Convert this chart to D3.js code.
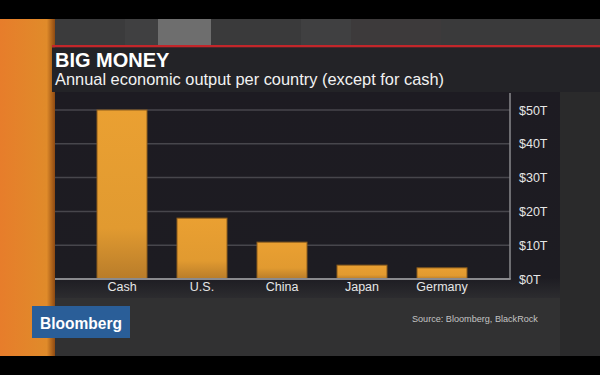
<!DOCTYPE html>
<html>
<head>
<meta charset="utf-8">
<script src="https://cdn.jsdelivr.net/npm/d3@7"></script>
<style>
  html, body { margin: 0; padding: 0; background: #000; }
  svg { display: block; font-family: "Liberation Sans", Arial, Helvetica, sans-serif; }
</style>
</head>
<body>
<svg id="chart" width="600" height="375" viewBox="0 0 600 375"></svg>
<script>
const categories = ['Cash', 'U.S.', 'China', 'Japan', 'Germany']
const values = [50, 18, 10.9, 4.1, 3.3]
const yTicks = [0, 10, 20, 30, 40, 50]
const title = 'BIG MONEY'
const subtitle = 'Annual economic output per country (except for cash)'
const source = 'Source: Bloomberg, BlackRock'

const plot = { left: 55, right: 510, top: 110, bottom: 279 }

const svg = d3.select('#chart')
const defs = svg.append('defs')

const orangeGrad = defs.append('linearGradient').attr('id', 'strip').attr('x1', 0).attr('x2', 1)
orangeGrad.append('stop').attr('offset', '0%').attr('stop-color', '#e77d2b')
orangeGrad.append('stop').attr('offset', '85%').attr('stop-color', '#e08b2a')
orangeGrad.append('stop').attr('offset', '100%').attr('stop-color', '#8e4a12')

const barGrad = defs.append('linearGradient').attr('id', 'bar').attr('x1', 0).attr('x2', 0).attr('y1', 0).attr('y2', 1)
barGrad.append('stop').attr('offset', '0%').attr('stop-color', '#eaa032')
barGrad.append('stop').attr('offset', '70%').attr('stop-color', '#e19a30')
barGrad.append('stop').attr('offset', '100%').attr('stop-color', '#b87c2a')

const panelGrad = defs.append('linearGradient').attr('id', 'panel').attr('x1', 0).attr('x2', 0).attr('y1', 0).attr('y2', 1)
panelGrad.append('stop').attr('offset', '0%').attr('stop-color', '#1d1b22')
panelGrad.append('stop').attr('offset', '90%').attr('stop-color', '#1d1c22')
panelGrad.append('stop').attr('offset', '100%').attr('stop-color', '#2c2c2f')

// backdrop
svg.append('rect').attr('width', 600).attr('height', 375).attr('fill', '#000')
svg.append('rect').attr('x', 0).attr('y', 19).attr('width', 600).attr('height', 337).attr('fill', '#313132')
svg.append('rect').attr('x', 560).attr('y', 92).attr('width', 40).attr('height', 264).attr('fill', '#2a2a2b')

const topBlocks = [[55, 70, '#3b3b3c'], [125, 33, '#404041'], [158, 53, '#6e6e6e'], [211, 90, '#3a3a3b'], [301, 50, '#404041'], [351, 90, '#3d3a3b'], [441, 159, '#3a3a3b']]
svg.selectAll('rect.topBlock').data(topBlocks).enter().append('rect')
  .attr('class', 'topBlock')
  .attr('x', d => d[0]).attr('y', 19).attr('width', d => d[1]).attr('height', 27)
  .attr('fill', d => d[2])

svg.append('rect').attr('x', 0).attr('y', 19).attr('width', 55).attr('height', 337).attr('fill', 'url(#strip)')

// title block
svg.append('rect').attr('x', 52).attr('y', 45).attr('width', 548).attr('height', 2.5).attr('fill', '#c3262a')
svg.append('rect').attr('x', 52).attr('y', 47.5).attr('width', 548).attr('height', 44.5).attr('fill', '#232327')
svg.append('text').attr('x', 55).attr('y', 66.5)
  .attr('font-size', 20).attr('font-weight', 'bold').attr('fill', '#fff')
  .text(title)
svg.append('text').attr('x', 55).attr('y', 85)
  .attr('font-size', 16.4).attr('fill', '#f2f2f2')
  .text(subtitle)

// chart panel
svg.append('rect').attr('x', 55).attr('y', 92).attr('width', 505).attr('height', 206).attr('fill', 'url(#panel)')

const x = d3.scaleBand()
  .domain(categories)
  .range([82, 482])
  .paddingInner(0.375)
  .paddingOuter(0.1875)

const y = d3.scaleLinear()
  .domain([0, 50])
  .range([plot.bottom, plot.top])

const g = svg.append('g')

g.selectAll('line.grid').data(yTicks.filter(t => t > 0)).enter().append('line')
  .attr('class', 'grid')
  .attr('x1', plot.left).attr('x2', plot.right)
  .attr('y1', d => y(d)).attr('y2', d => y(d))
  .attr('stroke', '#47464c').attr('stroke-width', 1.5)

g.selectAll('rect.bar').data(values).enter().append('rect')
  .attr('class', 'bar')
  .attr('x', (d, i) => x(categories[i]))
  .attr('width', x.bandwidth())
  .attr('y', d => y(d))
  .attr('height', d => y(0) - y(d))
  .attr('fill', 'url(#bar)')
  .attr('stroke', '#8c5d1d').attr('stroke-width', 1)

// right axis line and baseline
g.append('line').attr('x1', plot.right).attr('x2', plot.right).attr('y1', 93).attr('y2', plot.bottom)
  .attr('stroke', '#8a8a8e').attr('stroke-width', 1.5)
g.append('line').attr('x1', plot.left).attr('x2', plot.right + 0.75).attr('y1', plot.bottom).attr('y2', plot.bottom)
  .attr('stroke', '#8a8a8e').attr('stroke-width', 2)

const yAxis = d3.axisRight(y).tickValues(yTicks).tickSize(0).tickPadding(9).tickFormat(d => `$${d}T`)
g.append('g').attr('transform', `translate(${plot.right},0)`).call(yAxis)
  .call(a => a.select('.domain').remove())
  .selectAll('text').attr('font-size', 12.5).attr('fill', '#e6e6e6').attr('font-family', null)

const xAxis = d3.axisBottom(x).tickSize(0).tickPadding(3)
g.append('g').attr('transform', `translate(0,${plot.bottom})`).call(xAxis)
  .call(a => a.select('.domain').remove())
  .selectAll('text').attr('font-size', 12.5).attr('fill', '#e6e6e6').attr('font-family', null)

// logo + source
svg.append('rect').attr('x', 32).attr('y', 306).attr('width', 98).attr('height', 32).attr('fill', '#2a5e98')
svg.append('text').attr('x', 40).attr('y', 328.5)
  .attr('font-size', 17).attr('font-weight', 'bold').attr('fill', '#fff')
  .attr('textLength', 82).attr('lengthAdjust', 'spacingAndGlyphs')
  .text('Bloomberg')
svg.append('text').attr('x', 412).attr('y', 322)
  .attr('font-size', 9.1).attr('fill', '#c4c4c4')
  .text(source)

svg.append('rect').attr('x', 0).attr('y', 356).attr('width', 600).attr('height', 19).attr('fill', '#000')
</script>
</body>
</html>
